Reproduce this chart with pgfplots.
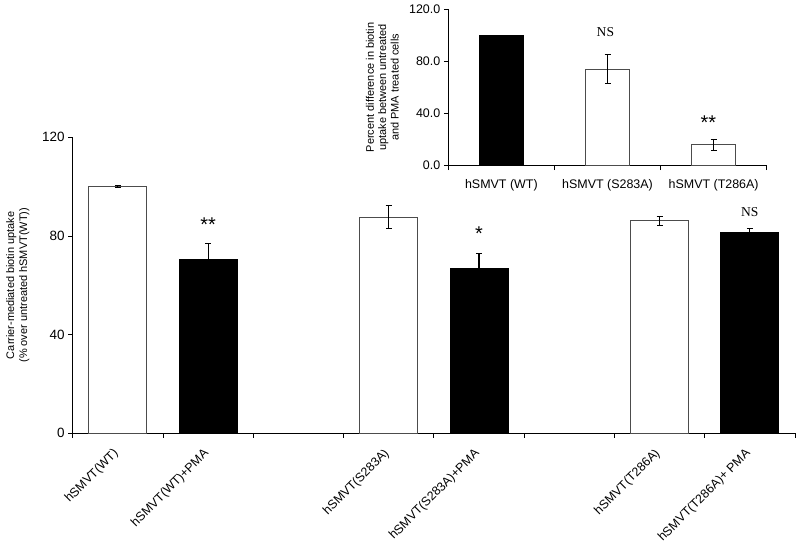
\documentclass[border=0pt]{standalone}
\usepackage{pgfplots}
\pgfplotsset{compat=1.18}
\usepackage{fontspec}
\setmainfont{Liberation Sans}
\newfontfamily\timesfont{Liberation Serif}
\begin{document}
\begin{tikzpicture}[x=1bp,y=1bp]
% ---------------- main axis ----------------
\begin{axis}[
  at={(72.7bp,114.7bp)}, anchor=south west,
  scale only axis, width=722.3bp, height=296bp,
  xmin=-0.5, xmax=7.5, ymin=0, ymax=120,
  axis x line*=bottom, axis y line*=left,
  axis line style={black, line width=0.9pt},
  /pgf/number format/assume math mode=true,
  ytick={0,40,80,120},
  xtick={0,1,3,4,6,7},
  xticklabels={hSMVT(WT),hSMVT(WT)+PMA,hSMVT(S283A),hSMVT(S283A)+PMA,hSMVT(T286A),hSMVT(T286A)+ PMA},
  major x tick style={draw=none},
  minor xtick={-0.5,0.5,1.5,2.5,3.5,4.5,5.5,6.5,7.5},
  minor tick length=4.5bp, major tick length=4.5bp,
  tick align=outside,
  tick style={black, line width=0.9pt},
  xticklabel style={xshift=1bp, yshift=-11.5bp, rotate=45, anchor=east, font=\fontsize{12.5}{14}\selectfont},
  yticklabel style={font=\fontsize{13.5}{15}\selectfont},
  ylabel={Carrier-mediated biotin uptake\\(\% over untreated hSMVT(WT))},
  ylabel style={align=center, font=\fontsize{11}{13}\selectfont, at={(axis description cs:-0.0761,0.5)}, anchor=center},
  clip=false,
]
\addplot[ybar, bar width=0.642, bar shift=0pt, fill=white, draw=black!70, line width=0.9pt,
  error bars/.cd, y dir=both, y explicit,
  error bar style={black, line width=1.1pt},
  error mark options={rotate=90, mark size=3bp, line width=1.1pt, black}]
  coordinates {(0,100) +- (0,0.3) (3,87.7) +- (0,4.6) (6,86.2) +- (0,1.8)};
\addplot[ybar, bar width=0.642, bar shift=0pt, fill=black, draw=black, line width=0.9pt,
  error bars/.cd, y dir=both, y explicit,
  error bar style={black, line width=1.1pt},
  error mark options={rotate=90, mark size=3bp, line width=1.1pt, black}]
  coordinates {(1,70.4) +- (0,6.5) (4,67.0) +- (0,5.8) (7,81.6) +- (0,1.6)};
\node[font=\fontsize{20}{20}\selectfont, anchor=base] at (axis cs:1,81.8) {**};
\node[font=\fontsize{20}{20}\selectfont, anchor=base] at (axis cs:4,78.1) {*};
\node[font=\timesfont\fontsize{13.6}{15}\selectfont, anchor=center] at (axis cs:7,89.8) {NS};
\end{axis}
% ---------------- inset axis ----------------
\begin{axis}[
  at={(448.3bp,382.3bp)}, anchor=south west,
  scale only axis, width=318.4bp, height=156.7bp,
  xmin=0.5, xmax=3.5, ymin=0, ymax=120,
  axis x line*=bottom, axis y line*=left,
  axis line style={black, line width=0.9pt},
  /pgf/number format/assume math mode=true,
  ytick={0,40,80,120},
  yticklabel={\pgfmathprintnumber[fixed,fixed zerofill,precision=1]{\tick}},
  xtick={1,2,3},
  xticklabels={hSMVT (WT),hSMVT (S283A),hSMVT (T286A)},
  major x tick style={draw=none},
  minor xtick={0.5,1.5,2.5,3.5},
  minor tick length=4.5bp, major tick length=4.5bp,
  tick align=outside,
  tick style={black, line width=0.9pt},
  xticklabel style={font=\fontsize{12.5}{14}\selectfont, yshift=-6bp},
  yticklabel style={font=\fontsize{12.5}{14}\selectfont},
  ylabel={Percent difference in biotin\\uptake between untreated\\and PMA treated cells},
  ylabel style={align=center, font=\fontsize{11}{12.5}\selectfont, at={(axis description cs:-0.2073,0.5)}, anchor=center},
  clip=false,
]
\addplot[ybar, bar width=0.415, bar shift=0pt, fill=black, draw=black, line width=0.9pt]
  coordinates {(1,100)};
\addplot[ybar, bar width=0.415, bar shift=0pt, fill=white, draw=black!70, line width=0.9pt,
  error bars/.cd, y dir=both, y explicit,
  error bar style={black, line width=1.1pt},
  error mark options={rotate=90, mark size=3bp, line width=1.1pt, black}]
  coordinates {(2,74.0) +- (0,11.3) (3,16.1) +- (0,4.2)};
\node[font=\timesfont\fontsize{13.6}{15}\selectfont, anchor=center] at (axis cs:1.98,102) {NS};
\node[font=\fontsize{20}{20}\selectfont, anchor=base] at (axis cs:2.95,27.4) {**};
\end{axis}
\pgfresetboundingbox
\path (0,0) rectangle (800bp,548bp);
\end{tikzpicture}
\end{document}
